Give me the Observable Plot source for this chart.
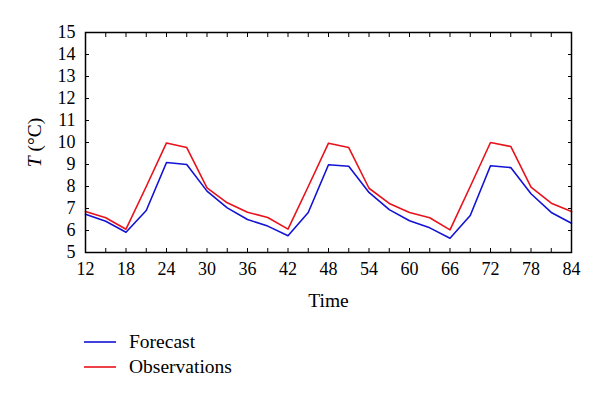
<!DOCTYPE html>
<html><head><meta charset="utf-8">
<script src="https://cdn.jsdelivr.net/npm/d3@7"></script>
<script src="https://cdn.jsdelivr.net/npm/@observablehq/plot@0.6"></script>
<style>
body{margin:0;background:#fff;font-family:"Liberation Serif",serif;}
#legend{padding-top:9.5px;}
.row{display:flex;align-items:center;height:25px;padding-left:84px;font-size:19.5px;color:#000;}
.row svg{margin-right:13px;}
</style></head><body><div id="chart"></div><div id="legend"></div>
<script>
const hours = [12,15,18,21,24,27,30,33,36,39,42,45,48,51,54,57,60,63,66,69,72,75,78,81,84];
const forecast = [6.74,6.42,5.92,6.91,9.09,9.0,7.79,7.03,6.5,6.2,5.76,6.82,8.99,8.92,7.73,6.95,6.44,6.12,5.65,6.68,8.94,8.86,7.67,6.82,6.33];
const observations = [6.86,6.58,6.06,8.0,9.98,9.77,7.94,7.26,6.83,6.59,6.06,8.0,9.97,9.77,7.92,7.23,6.82,6.58,6.03,8.0,10.0,9.82,7.97,7.24,6.86];
const xTicks = [12,15,18,21,24,27,30,33,36,39,42,45,48,51,54,57,60,63,66,69,72,75,78,81,84];
const xTickLabels = [12,18,24,30,36,42,48,54,60,66,72,78,84];
const yTicks = [5,6,7,8,9,10,11,12,13,14,15];
const seriesNames = ["Forecast","Observations"];
const seriesColors = ["#1212d4","#e8121c"];
const xLabel = "Time";
const yLabelVar = "T";
const yLabelUnit = " (°C)";

const data = seriesNames.flatMap((s, k) => hours.map((h, i) => ({hour: h, value: (k === 0 ? forecast : observations)[i], series: s})));

const chart = Plot.plot({
  width: 600, height: 320,
  marginTop: 32, marginBottom: 68, marginLeft: 85, marginRight: 29,
  style: {fontFamily: '"Liberation Serif", serif', fontSize: "18px", color: "black", background: "white"},
  x: {domain: [12, 84]},
  y: {domain: [5, 15]},
  color: {domain: seriesNames, range: seriesColors},
  marks: [
    Plot.line(data, {x: "hour", y: "value", stroke: "series", z: "series", strokeWidth: 1.6}),
    Plot.axisX({anchor: "bottom", ticks: xTicks, tickSize: -4, tickPadding: 14, fontSize: 18, tickFormat: d => xTickLabels.includes(d) ? String(d) : "", label: xLabel, labelAnchor: "center", labelOffset: 54, labelArrow: "none"}),
    Plot.axisX({anchor: "top", ticks: xTicks, tickSize: -4, tickFormat: () => "", label: null}),
    Plot.axisY({anchor: "left", ticks: yTicks, tickSize: -4, tickPadding: 14, fontSize: 18, label: yLabelVar + yLabelUnit, labelAnchor: "center", labelOffset: 58, labelArrow: "none"}),
    Plot.axisY({anchor: "right", ticks: yTicks, tickSize: -4, tickFormat: () => "", label: null}),
    Plot.frame({stroke: "black", strokeWidth: 1.5})
  ]
});
document.getElementById("chart").appendChild(chart);

const svg = d3.select(chart);
svg.select('g[aria-label="x-axis label"] text').attr("font-size", 19.5);
const yl = svg.select('g[aria-label="y-axis label"] text');
yl.attr("font-size", 19.5).text(null);
yl.append("tspan").attr("font-style", "italic").text(yLabelVar);
yl.append("tspan").text(yLabelUnit);

const legend = d3.select("#legend");
seriesNames.forEach((name, i) => {
  const row = legend.append("div").attr("class", "row");
  const s = row.append("svg").attr("width", 32).attr("height", 4);
  s.append("line").attr("x1", 0).attr("x2", 32).attr("y1", 2).attr("y2", 2).attr("stroke", seriesColors[i]).attr("stroke-width", 1.6);
  row.append("span").text(name);
});
</script></body></html>
